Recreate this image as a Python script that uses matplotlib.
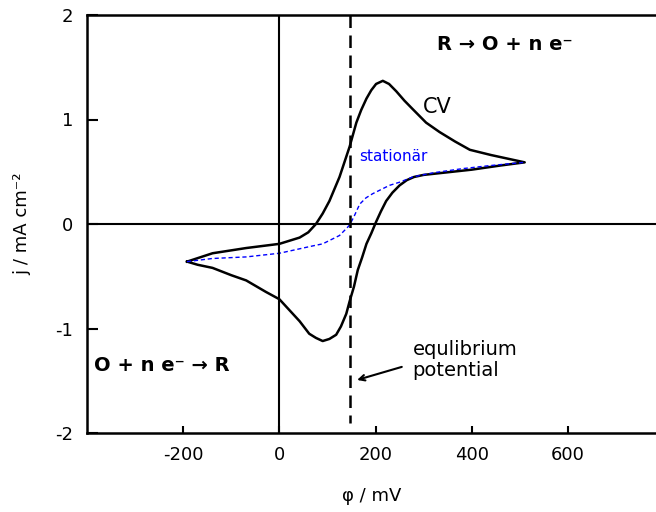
import matplotlib
matplotlib.use('Agg')
from matplotlib import pyplot as plt

plt.rcParams['font.family'] = ['DejaVu Sans']
plt.rcParams['axes.unicode_minus'] = False

# cyclic voltammogram, anodic sweep then cathodic sweep
phi_fwd = [-192, -139, -69, 0, 42, 60, 76, 90, 104, 125, 146, 160, 170, 181, 191, 201, 215,
           228, 243, 260, 277, 305, 333, 365, 396, 440, 480, 510]
j_fwd = [-0.36, -0.28, -0.23, -0.19, -0.13, -0.08, 0.0, 0.10, 0.22, 0.45, 0.74, 0.97, 1.09,
         1.20, 1.28, 1.34, 1.37, 1.34, 1.27, 1.18, 1.10, 0.97, 0.88, 0.79, 0.71, 0.66, 0.62, 0.59]
phi_rev = [510, 460, 400, 340, 300, 280, 265, 250, 235, 222, 211, 201, 191, 181, 172, 163, 155,
           146, 139, 128, 118, 104, 90, 76, 62, 42, 20, 0, -28, -69, -100, -139, -170, -192]
j_rev = [0.59, 0.56, 0.52, 0.49, 0.47, 0.45, 0.42, 0.37, 0.30, 0.22, 0.12, 0.02, -0.09, -0.19,
         -0.32, -0.44, -0.60, -0.74, -0.86, -0.98, -1.06, -1.10, -1.12, -1.09, -1.05, -0.93,
         -0.82, -0.72, -0.65, -0.54, -0.49, -0.42, -0.39, -0.36]

# stationary current-potential curve
phi_stat = [-192, -139, -69, 0, 69, 90, 125, 140, 146, 155, 167, 180, 194, 229, 250, 277,
            320, 381, 440, 510]
j_stat = [-0.36, -0.33, -0.315, -0.28, -0.21, -0.19, -0.11, -0.04, -0.01, 0.07, 0.19, 0.25,
          0.29, 0.37, 0.40, 0.45, 0.49, 0.53, 0.56, 0.59]

phi_eq = 146
xticks = [-200, 0, 200, 400, 600]
yticks = [-2, -1, 0, 1, 2]

fig = plt.figure(figsize=(6.56, 5.12), dpi=100)
ax = fig.add_axes([87/656, 1-433/512, 1-87/656, 418/512])

ax.plot(phi_fwd + phi_rev, j_fwd + j_rev, color='k', lw=1.8, solid_joinstyle='round')
ax.plot(phi_stat, j_stat, color='blue', lw=1.0, ls=(0, (3, 2)))

ax.axhline(0, color='k', lw=1.5)
ax.axvline(0, color='k', lw=1.5)
ax.plot([phi_eq, phi_eq], [2, -1.9], color='k', lw=1.8, ls=(0, (5, 3)))

ax.set_xlim(-400, 783)
ax.set_ylim(-2, 2)
ax.set_xticks(xticks)
ax.set_yticks(yticks)
ax.tick_params(axis='x', direction='in', length=5, width=1.5, labelsize=13, pad=9)
ax.tick_params(axis='y', direction='in', length=8, width=1.5, labelsize=13, pad=10)
for s in ['left', 'top', 'bottom']:
    ax.spines[s].set_linewidth(1.8)
ax.spines['right'].set_visible(False)

ax.set_xlabel('\u03c6 / mV', fontsize=13, labelpad=17)
ax.set_ylabel('j / mA cm\u207b\u00b2', fontsize=13, labelpad=17)

ax.text(327, 1.72, 'R \u2192 O + n e\u207b', fontsize=14, fontweight='bold', va='center')
ax.text(-385, -1.35, 'O + n e\u207b \u2192 R', fontsize=14, fontweight='bold', va='center')
ax.text(298, 1.12, 'CV', fontsize=15, va='center')
ax.text(165, 0.65, 'station\u00e4r', fontsize=11, color='blue', va='center')
ax.text(277, -1.30, 'equlibrium\npotential', fontsize=14, va='center', linespacing=1.1)
ax.annotate('', xy=(156, -1.5), xytext=(260, -1.36),
            arrowprops=dict(arrowstyle='->', color='k', lw=1.5))

plt.savefig('out.png', dpi=100)
